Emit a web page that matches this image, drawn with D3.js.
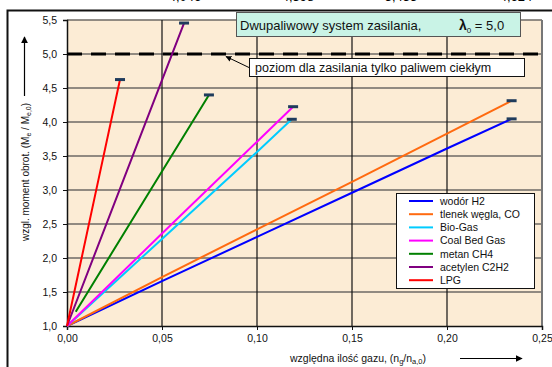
<!DOCTYPE html>
<html lang="pl">
<head>
<meta charset="UTF-8">
<title>Dwupaliwowy system zasilania</title>
<script src="https://cdn.jsdelivr.net/npm/d3@7"></script>
<style>
  body { margin: 0; background: #fff; }
  svg { display: block; font-family: "Liberation Sans", Arial, sans-serif; }
</style>
</head>
<body>
<svg id="chart" width="552" height="367"></svg>
<script>
// dane
const seriesNames = ["wodór H2", "tlenek węgla, CO", "Bio-Gas", "Coal Bed Gas", "metan CH4", "acetylen C2H2", "LPG"];
const seriesColors = ["#0000ff", "#ff6a10", "#00ccff", "#ff00ff", "#008000", "#800080", "#ff0000"];

const wodor = [[0, 1.0], [0.05, 1.66], [0.10, 2.31], [0.15, 2.96], [0.20, 3.61], [0.234, 4.046]];
const tlenek = [[0, 1.0], [0.05, 1.72], [0.10, 2.42], [0.15, 3.12], [0.20, 3.83], [0.234, 4.313]];
const bioGas = [[0, 1.0], [0.05, 2.28], [0.10, 3.56], [0.1183, 4.04]];
const coalBed = [[0, 1.0], [0.05, 2.36], [0.10, 3.71], [0.119, 4.225]];
const metan = [[0.0046, 1.21], [0.04, 2.82], [0.0747, 4.398]];
const acetylen = [[0, 1.0], [0.03, 3.17], [0.0616, 5.455]];
const lpg = [[0, 1.0], [0.015, 2.95], [0.0279, 4.624]];
const seriesData = [wodor, tlenek, bioGas, coalBed, metan, acetylen, lpg];

const yTicks = [1.0, 1.5, 2.0, 2.5, 3.0, 3.5, 4.0, 4.5, 5.0, 5.5];
const xTicks = [0, 0.05, 0.10, 0.15, 0.20, 0.25];
const liquidLevel = 5.0;
const topNumbers = ["4,046", "4,398", "5,455", "4,624"];

const svg = d3.select("#chart");

const x = d3.scaleLinear().domain([0, 0.25]).range([67, 542]);
const y = d3.scaleLinear().domain([1.0, 5.5]).range([326, 20]);
const comma = f => v => d3.format(f)(v).replace(".", ",");

// obcięte liczby u góry (z tabeli nad wykresem)
svg.selectAll(".topnum")
    .data(topNumbers)
    .join("text")
    .attr("x", (d, i) => [185, 298, 401, 516][i])
    .attr("y", 1)
    .attr("text-anchor", "middle")
    .attr("font-size", 13)
    .text(d => d);

// ramka zewnętrzna
svg.append("rect")
    .attr("x", 7.5).attr("y", 10.5)
    .attr("width", 560).attr("height", 380)
    .attr("fill", "none")
    .attr("stroke", "#111")
    .attr("stroke-width", 2);

// tło obszaru wykresu
svg.append("rect")
    .attr("x", x(0)).attr("y", y(5.5))
    .attr("width", x(0.25) - x(0)).attr("height", y(1.0) - y(5.5))
    .attr("fill", "#fcecd5");

// siatka pozioma
svg.append("g")
    .selectAll("line")
    .data(yTicks.filter(d => d > 1.0))
    .join("line")
    .attr("x1", x(0)).attr("x2", x(0.25))
    .attr("y1", d => y(d)).attr("y2", d => y(d))
    .attr("stroke", "#6e6a64")
    .attr("stroke-width", 1.5);

// siatka pionowa
svg.append("g")
    .selectAll("line")
    .data(xTicks.filter(d => d > 0 && d < 0.25))
    .join("line")
    .attr("x1", d => x(d)).attr("x2", d => x(d))
    .attr("y1", y(5.5)).attr("y2", y(1.0))
    .attr("stroke", "#111")
    .attr("stroke-width", 1.2);

// prawa krawędź
svg.append("line")
    .attr("x1", x(0.25)).attr("x2", x(0.25))
    .attr("y1", y(5.5)).attr("y2", y(1.0))
    .attr("stroke", "#777")
    .attr("stroke-width", 2);

// osie
const yAxis = svg.append("g")
    .attr("transform", `translate(${x(0)},0)`)
    .call(d3.axisLeft(y).tickValues(yTicks).tickFormat(comma(".1f")).tickSize(4).tickPadding(6));
const xAxis = svg.append("g")
    .attr("transform", `translate(0,${y(1.0)})`)
    .call(d3.axisBottom(x).tickValues(xTicks).tickFormat(comma(".2f")).tickSize(4).tickPadding(5));

[yAxis, xAxis].forEach(a => {
    a.select(".domain").attr("stroke", "#111").attr("stroke-width", 1.5);
    a.selectAll(".tick line").attr("stroke", "#111");
    a.selectAll(".tick text")
        .attr("font-family", "Liberation Sans, Arial, sans-serif")
        .attr("font-size", 10.5)
        .attr("fill", "#111");
});

// poziom dla paliwa ciekłego
svg.append("line")
    .attr("x1", x(0)).attr("x2", x(0.25))
    .attr("y1", y(liquidLevel)).attr("y2", y(liquidLevel))
    .attr("stroke", "#000")
    .attr("stroke-width", 3)
    .attr("stroke-dasharray", "15,9");

// linie serii
const line = d3.line().x(d => x(d[0])).y(d => y(d[1]));
svg.append("g")
    .selectAll("path")
    .data(seriesData)
    .join("path")
    .attr("d", line)
    .attr("fill", "none")
    .attr("stroke", (d, i) => seriesColors[i])
    .attr("stroke-width", 2);

// znaczniki końcowe
svg.append("g")
    .selectAll("rect")
    .data(seriesData.map(s => s[s.length - 1]))
    .join("rect")
    .attr("x", d => x(d[0]) - 5)
    .attr("y", d => y(d[1]) - 1.5)
    .attr("width", 10).attr("height", 3)
    .attr("fill", "#1f3b5c");

// tytuł
svg.append("rect")
    .attr("x", 236.5).attr("y", 12.5)
    .attr("width", 284).attr("height", 24)
    .attr("fill", "#c9f3e6")
    .attr("stroke", "#555")
    .attr("stroke-width", 1);
const title = svg.append("text")
    .attr("x", 240).attr("y", 29.5)
    .attr("font-size", 13)
    .attr("fill", "#111");
title.append("tspan").text("Dwupaliwowy system zasilania,");
title.append("tspan").attr("x", 459).attr("font-weight", "bold").attr("font-size", 14).text("λ");
title.append("tspan").attr("font-size", 8).attr("dy", 3).text("0");
title.append("tspan").attr("dy", -3).text(" = 5,0");

// adnotacja poziomu
const marker = svg.append("defs").append("marker")
    .attr("id", "head")
    .attr("viewBox", "0 0 10 10")
    .attr("refX", 9).attr("refY", 5)
    .attr("markerWidth", 6).attr("markerHeight", 6)
    .attr("orient", "auto-start-reverse");
marker.append("path").attr("d", "M0,0 L10,5 L0,10 z").attr("fill", "#000");

svg.append("line")
    .attr("x1", 250).attr("y1", 68)
    .attr("x2", 226).attr("y2", 56.5)
    .attr("stroke", "#000")
    .attr("stroke-width", 1)
    .attr("marker-end", "url(#head)");
svg.append("rect")
    .attr("x", 249.5).attr("y", 58.5)
    .attr("width", 275).attr("height", 18)
    .attr("fill", "#fff")
    .attr("stroke", "#111")
    .attr("stroke-width", 1);
svg.append("text")
    .attr("x", 255).attr("y", 72)
    .attr("font-size", 12.5)
    .attr("fill", "#111")
    .text("poziom dla zasilania tylko paliwem ciekłym");

// legenda
const legend = svg.append("g").attr("transform", "translate(396,193)");
legend.append("rect")
    .attr("x", 0.5).attr("y", 0.5)
    .attr("width", 138).attr("height", 95)
    .attr("fill", "#fff")
    .attr("stroke", "#111");
const items = legend.selectAll(".item")
    .data(seriesNames)
    .join("g")
    .attr("transform", (d, i) => `translate(0,${8 + i * 13.2})`);
items.append("line")
    .attr("x1", 13).attr("x2", 37)
    .attr("stroke", (d, i) => seriesColors[i])
    .attr("stroke-width", 2);
items.append("text")
    .attr("x", 44).attr("y", 3.8)
    .attr("font-size", 10.5)
    .attr("fill", "#111")
    .text(d => d);

// tytuł osi Y
const yTitle = svg.append("text")
    .attr("transform", "translate(29,172) rotate(-90)")
    .attr("text-anchor", "middle")
    .attr("font-size", 10)
    .attr("fill", "#111");
yTitle.append("tspan").text("wzgl. moment obrot. (M");
yTitle.append("tspan").attr("font-size", 7).attr("dy", 2).text("e");
yTitle.append("tspan").attr("dy", -2).text(" / M");
yTitle.append("tspan").attr("font-size", 7).attr("dy", 2).text("e,0");
yTitle.append("tspan").attr("dy", -2).text(")");

svg.append("line")
    .attr("x1", 24.5).attr("y1", 96)
    .attr("x2", 24.5).attr("y2", 37)
    .attr("stroke", "#000")
    .attr("stroke-width", 1.2)
    .attr("marker-end", "url(#head)");

// tytuł osi X
const xTitle = svg.append("text")
    .attr("x", 290).attr("y", 362)
    .attr("font-size", 10.5)
    .attr("fill", "#111");
xTitle.append("tspan").text("względna ilość gazu, (n");
xTitle.append("tspan").attr("font-size", 7.5).attr("dy", 2).text("g");
xTitle.append("tspan").attr("dy", -2).text("/n");
xTitle.append("tspan").attr("font-size", 7.5).attr("dy", 2).text("a,0");
xTitle.append("tspan").attr("dy", -2).text(")");

svg.append("line")
    .attr("x1", 460).attr("y1", 358.5)
    .attr("x2", 522).attr("y2", 358.5)
    .attr("stroke", "#000")
    .attr("stroke-width", 1.2)
    .attr("marker-end", "url(#head)");
</script>
</body>
</html>
